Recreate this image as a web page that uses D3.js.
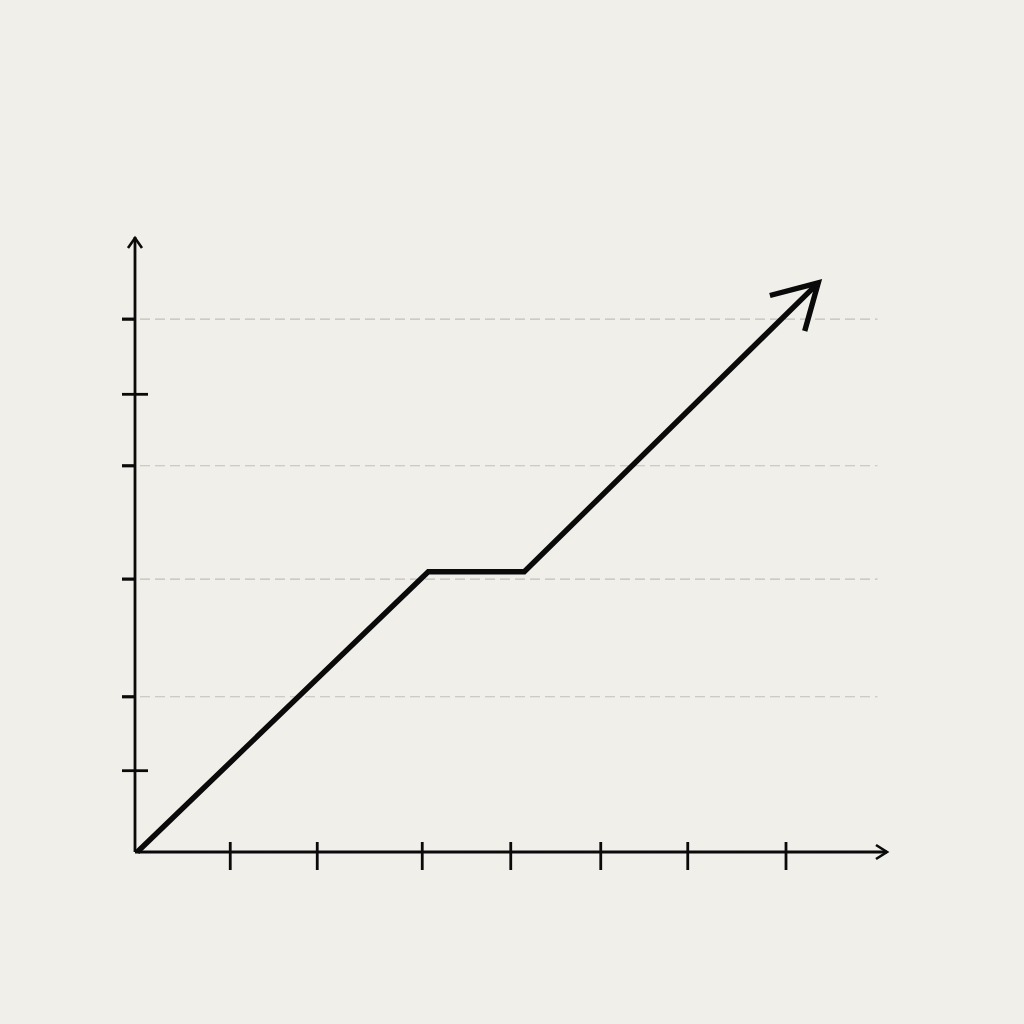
<!DOCTYPE html>
<html>
<head>
<meta charset="utf-8">
<script src="https://cdn.jsdelivr.net/npm/d3@7"></script>
<style>
  html, body { margin: 0; padding: 0; background: #f0efea; }
  svg { display: block; }
</style>
</head>
<body>
<svg id="chart" width="1024" height="1024"></svg>
<script>
// values (axis units 0..100)
const xTicks = [12.7, 24.3, 38.3, 50.1, 62.1, 73.7, 86.8]
const yTicksShort = [86.5, 62.7, 44.3, 25.2]   // ticks that sit on a gridline
const yTicksLong = [74.3, 13.2]                // ticks crossing the axis
const gridLines = [86.5, 62.7, 44.3, 25.2]
const lineX = [0.3, 39.1, 51.9, 91.1]
const lineY = [0, 45.5, 45.5, 92.4]

const width = 1024
const height = 1024
const margin = { top: 236, right: 136, bottom: 172, left: 135 }

const svg = d3.select('#chart')

// faint paper texture
const defs = svg.append('defs')
const filter = defs.append('filter').attr('id', 'paper')
filter.append('feTurbulence')
  .attr('type', 'fractalNoise')
  .attr('baseFrequency', 0.8)
  .attr('numOctaves', 3)
  .attr('seed', 4)
filter.append('feColorMatrix')
  .attr('type', 'matrix')
  .attr('values', '0 0 0 0 0.5  0 0 0 0 0.49  0 0 0 0 0.47  0 0 0 0.035 0')

svg.append('rect')
  .attr('width', width)
  .attr('height', height)
  .attr('fill', '#f1f0eb')
svg.append('rect')
  .attr('width', width)
  .attr('height', height)
  .attr('filter', 'url(#paper)')

const x = d3.scaleLinear()
  .domain([0, 100])
  .range([margin.left, width - margin.right - 3])

const y = d3.scaleLinear()
  .domain([0, 100])
  .range([height - margin.bottom, margin.top])

const x0 = x(0)
const y0 = y(0)

// dashed gridlines
svg.append('g')
  .selectAll('line')
  .data(gridLines)
  .enter()
  .append('line')
  .attr('x1', x0 + 5)
  .attr('x2', x(99))
  .attr('y1', d => y(d))
  .attr('y2', d => y(d))
  .attr('stroke', '#c2c0ba')
  .attr('stroke-width', 1.2)
  .attr('stroke-dasharray', '10 5')

const ink = '#0a0a0a'

// y axis with arrow
const yAxis = svg.append('g').attr('stroke', ink).attr('fill', 'none')
yAxis.append('line')
  .attr('x1', x0).attr('x2', x0)
  .attr('y1', y0).attr('y2', y(100) + 1)
  .attr('stroke-width', 2.8)
yAxis.append('path')
  .attr('d', `M${x0 - 7},${y(100) + 12}L${x0},${y(100) + 2}L${x0 + 7},${y(100) + 12}`)
  .attr('stroke-width', 2.6)
  .attr('stroke-linejoin', 'miter')

yAxis.selectAll('.tick-short')
  .data(yTicksShort)
  .enter()
  .append('line')
  .attr('x1', x0 - 13).attr('x2', x0)
  .attr('y1', d => y(d)).attr('y2', d => y(d))
  .attr('stroke-width', 3.2)

yAxis.selectAll('.tick-long')
  .data(yTicksLong)
  .enter()
  .append('line')
  .attr('x1', x0 - 13).attr('x2', x0 + 13)
  .attr('y1', d => y(d)).attr('y2', d => y(d))
  .attr('stroke-width', 2.8)

// x axis with arrow
const xAxis = svg.append('g').attr('stroke', ink).attr('fill', 'none')
xAxis.append('line')
  .attr('x1', x0).attr('x2', x(100) + 2)
  .attr('y1', y0).attr('y2', y0)
  .attr('stroke-width', 2.8)
xAxis.append('path')
  .attr('d', `M${x(100) - 9},${y0 - 7}L${x(100) + 2},${y0}L${x(100) - 9},${y0 + 7}`)
  .attr('stroke-width', 2.6)

xAxis.selectAll('.tick')
  .data(xTicks)
  .enter()
  .append('line')
  .attr('x1', d => x(d)).attr('x2', d => x(d))
  .attr('y1', y0 - 10).attr('y2', y0 + 18)
  .attr('stroke-width', 2.8)

// main line
const pts = lineX.map((v, i) => [x(v), y(lineY[i])])
const line = d3.line()

svg.append('path')
  .attr('d', line(pts))
  .attr('fill', 'none')
  .attr('stroke', ink)
  .attr('stroke-width', 5.4)
  .attr('stroke-linejoin', 'miter')

// open arrowhead at the end of the line
const end = pts[pts.length - 1]
const prev = pts[pts.length - 2]
const ang = Math.atan2(end[1] - prev[1], end[0] - prev[0])
const len = 50
const spread = 0.52
const w1 = [end[0] - len * Math.cos(ang - spread), end[1] - len * Math.sin(ang - spread)]
const w2 = [end[0] - len * Math.cos(ang + spread), end[1] - len * Math.sin(ang + spread)]

svg.append('path')
  .attr('d', line([w1, end, w2]))
  .attr('fill', 'none')
  .attr('stroke', ink)
  .attr('stroke-width', 5.4)
  .attr('stroke-linejoin', 'miter')
</script>
</body>
</html>
